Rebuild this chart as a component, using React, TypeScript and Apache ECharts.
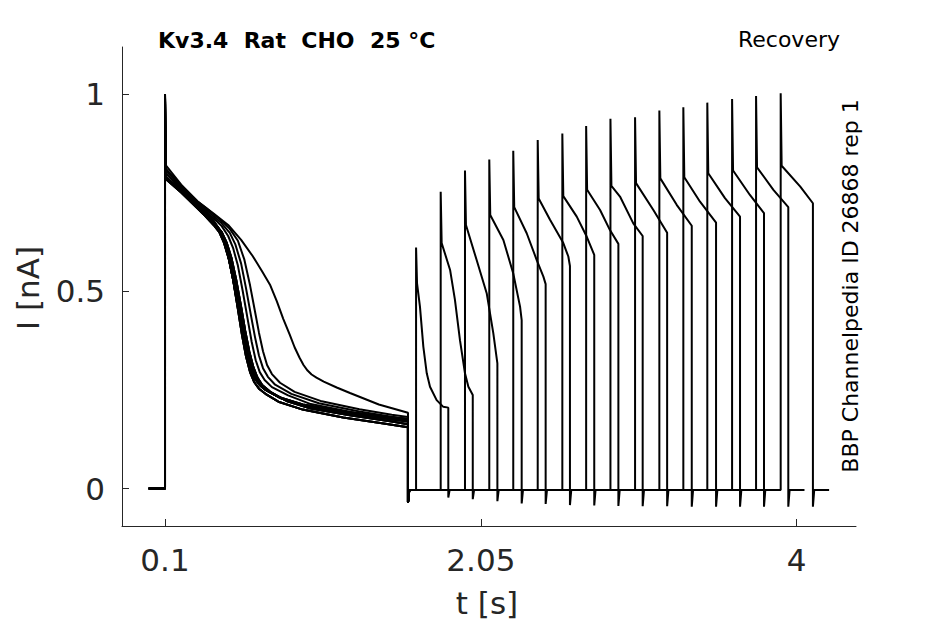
import React, { useEffect, useRef } from "react";
import * as echarts from "echarts";

// ---- Data (t in s, I in nA) ----
const xTicks = [0.1, 2.05, 4];
const yTicks = [0, 0.5, 1];

const holdingLevel = 0;
const gapLevel = -0.004;
const firstPulseEnd = 1.6;
const firstPulseTail = -0.036;
const recordStart = 0;
const tailDuration = 0.1;

// first (conditioning) pulse shapes
const bundle1 = [[0.1, 0], [0.1, 1.0], [0.103, 0.81], [0.2, 0.765], [0.3, 0.718], [0.35, 0.7], [0.4, 0.678], [0.43, 0.66], [0.46, 0.632], [0.49, 0.59], [0.52, 0.53], [0.55, 0.455], [0.575, 0.39], [0.6, 0.335], [0.625, 0.295], [0.65, 0.27], [0.68, 0.253], [0.72, 0.24], [0.8, 0.22], [0.95, 0.2], [1.2, 0.18], [1.45, 0.165], [1.6, 0.155]];
const bundle2 = [[0.1, 0], [0.1, 1.0], [0.103, 0.8], [0.2, 0.76], [0.3, 0.715], [0.35, 0.697], [0.4, 0.675], [0.44, 0.655], [0.47, 0.628], [0.5, 0.588], [0.53, 0.53], [0.56, 0.46], [0.585, 0.398], [0.61, 0.345], [0.635, 0.305], [0.66, 0.28], [0.69, 0.262], [0.73, 0.248], [0.82, 0.228], [0.98, 0.207], [1.2, 0.192], [1.45, 0.178], [1.6, 0.17]];
const bundle3 = [[0.1, 0], [0.1, 0.99], [0.103, 0.79], [0.2, 0.755], [0.3, 0.712], [0.35, 0.693], [0.4, 0.672], [0.45, 0.65], [0.48, 0.624], [0.51, 0.585], [0.54, 0.528], [0.57, 0.46], [0.595, 0.4], [0.62, 0.348], [0.645, 0.308], [0.67, 0.282], [0.7, 0.262], [0.75, 0.245], [0.85, 0.222], [1.0, 0.203], [1.25, 0.185], [1.5, 0.17], [1.6, 0.163]];
const bundle4 = [[0.1, 0], [0.1, 0.98], [0.103, 0.785], [0.2, 0.75], [0.3, 0.71], [0.35, 0.69], [0.4, 0.668], [0.435, 0.65], [0.465, 0.622], [0.495, 0.58], [0.525, 0.52], [0.555, 0.45], [0.58, 0.39], [0.605, 0.34], [0.63, 0.302], [0.655, 0.278], [0.685, 0.262], [0.72, 0.25], [0.8, 0.232], [0.95, 0.213], [1.2, 0.195], [1.45, 0.182], [1.6, 0.176]];
const mid1 = [[0.1, 0], [0.1, 0.99], [0.103, 0.8], [0.2, 0.76], [0.3, 0.72], [0.35, 0.703], [0.4, 0.685], [0.45, 0.665], [0.49, 0.64], [0.52, 0.61], [0.55, 0.565], [0.58, 0.5], [0.61, 0.43], [0.635, 0.372], [0.66, 0.325], [0.685, 0.295], [0.715, 0.275], [0.76, 0.257], [0.86, 0.236], [1.0, 0.214], [1.25, 0.194], [1.5, 0.178], [1.6, 0.173]];
const mid2 = [[0.1, 0], [0.1, 0.99], [0.103, 0.81], [0.2, 0.765], [0.3, 0.724], [0.35, 0.708], [0.4, 0.69], [0.45, 0.672], [0.5, 0.648], [0.535, 0.618], [0.57, 0.57], [0.6, 0.508], [0.63, 0.44], [0.655, 0.385], [0.68, 0.337], [0.705, 0.305], [0.735, 0.283], [0.78, 0.263], [0.88, 0.24], [1.05, 0.216], [1.3, 0.195], [1.5, 0.182], [1.6, 0.176]];
const mid3 = [[0.1, 0], [0.1, 0.99], [0.103, 0.81], [0.2, 0.768], [0.3, 0.728], [0.35, 0.712], [0.4, 0.695], [0.45, 0.678], [0.5, 0.658], [0.55, 0.628], [0.59, 0.58], [0.625, 0.515], [0.655, 0.45], [0.68, 0.395], [0.705, 0.348], [0.73, 0.313], [0.76, 0.29], [0.81, 0.268], [0.9, 0.245], [1.06, 0.222], [1.3, 0.201], [1.5, 0.187], [1.6, 0.181]];
const outlier = [[0.1, 0], [0.1, 1.0], [0.103, 0.82], [0.2, 0.77], [0.3, 0.728], [0.4, 0.697], [0.49, 0.668], [0.57, 0.63], [0.64, 0.59], [0.7, 0.55], [0.75, 0.515], [0.79, 0.475], [0.83, 0.43], [0.87, 0.39], [0.9, 0.358], [0.93, 0.332], [0.955, 0.313], [0.98, 0.299], [1.005, 0.289], [1.035, 0.281], [1.08, 0.271], [1.16, 0.256], [1.242, 0.242], [1.42, 0.213], [1.6, 0.192]];

const sweepFirstPulse = [outlier, mid1, mid2, mid3, bundle1, bundle2, bundle3, bundle4, bundle1, bundle2, bundle3, bundle4, bundle2, bundle1, bundle4, bundle3];

// second (test) pulse
const secondStart = [1.65, 1.802, 1.952, 2.102, 2.25, 2.401, 2.553, 2.7, 2.85, 3.002, 3.152, 3.3, 3.448, 3.601, 3.749, 3.901];
const secondPeak = [0.611, 0.752, 0.806, 0.834, 0.856, 0.883, 0.9, 0.919, 0.937, 0.941, 0.958, 0.966, 0.978, 0.987, 0.995, 1.002];
const secondShoulder = [0.52, 0.622, 0.668, 0.693, 0.713, 0.735, 0.741, 0.757, 0.767, 0.774, 0.786, 0.789, 0.799, 0.806, 0.814, 0.818];
const secondDecay = [
  [[1.674, 0.461], [1.695, 0.359], [1.716, 0.292], [1.736, 0.258], [1.777, 0.224], [1.818, 0.207], [1.849, 0.205]],
  [[1.86, 0.554], [1.89, 0.478], [1.921, 0.376], [1.952, 0.292], [1.973, 0.258], [2.0, 0.237]],
  [[2.024, 0.579], [2.086, 0.495], [2.127, 0.393], [2.152, 0.317]],
  [[2.189, 0.63], [2.25, 0.545], [2.292, 0.461], [2.302, 0.427]],
  [[2.333, 0.647], [2.395, 0.579], [2.436, 0.537], [2.45, 0.518]],
  [[2.477, 0.681], [2.559, 0.622], [2.59, 0.588], [2.6, 0.564]],
  [[2.642, 0.689], [2.704, 0.638], [2.75, 0.592]],
  [[2.786, 0.706], [2.847, 0.655], [2.899, 0.62]],
  [[2.909, 0.74], [2.991, 0.672], [3.049, 0.64]],
  [[3.115, 0.706], [3.2, 0.648]],
  [[3.259, 0.719], [3.352, 0.666]],
  [[3.403, 0.727], [3.502, 0.674]],
  [[3.557, 0.736], [3.65, 0.689]],
  [[3.711, 0.744], [3.798, 0.698]],
  [[3.856, 0.757], [3.948, 0.713]],
  [[4.022, 0.765], [4.1, 0.723]],
];
const secondTail = [-0.023, -0.027, -0.032, -0.038, -0.039, -0.042, -0.043, -0.044, -0.045, -0.045, -0.046, -0.046, -0.046, -0.046, -0.046, -0.046];

const INK = "#262626";

function buildSweep(i: number) {
  const pts: number[][] = [[recordStart, holdingLevel]];
  sweepFirstPulse[i].forEach((p) => pts.push(p));
  pts.push([firstPulseEnd, firstPulseTail]);
  pts.push([firstPulseEnd + 0.008, gapLevel]);
  const t2 = secondStart[i];
  pts.push([t2, gapLevel]);
  pts.push([t2, secondPeak[i]]);
  pts.push([t2 + 0.006, secondShoulder[i]]);
  const dec = secondDecay[i];
  dec.forEach((p) => pts.push(p));
  const tEnd = dec[dec.length - 1][0];
  pts.push([tEnd, secondTail[i]]);
  pts.push([tEnd + 0.008, gapLevel]);
  pts.push([tEnd + tailDuration, gapLevel]);
  return pts;
}

export default function App() {
  const ref = useRef<HTMLDivElement>(null);
  useEffect(() => {
    if (!ref.current) return;
    const chart = echarts.init(ref.current, null, { renderer: "svg" });
    const series = secondStart.map((_, i) => ({
      type: "line",
      data: buildSweep(i),
      showSymbol: false,
      symbol: "none",
      silent: true,
      lineStyle: { color: "#000", width: 2 },
      z: 2,
    }));
    chart.setOption({
      animation: false,
      backgroundColor: "#fff",
      grid: { left: 122, top: 47, right: 89, bottom: 98, containLabel: false },
      xAxis: {
        type: "value",
        min: -0.1655,
        max: 4.366,
        axisLine: { show: true, onZero: false, lineStyle: { color: INK, width: 1 } },
        axisTick: { show: true, inside: true, length: 7, customValues: xTicks, lineStyle: { color: INK } },
        axisLabel: {
          customValues: xTicks,
          color: INK,
          fontSize: 31,
          fontFamily: "DejaVu Sans",
          margin: 18,
          formatter: (v: number) => String(v),
        },
        splitLine: { show: false },
      },
      yAxis: {
        type: "value",
        min: -0.095,
        max: 1.119,
        axisLine: { show: true, onZero: false, lineStyle: { color: INK, width: 1 } },
        axisTick: { show: true, inside: true, length: 7, customValues: yTicks, lineStyle: { color: INK } },
        axisLabel: {
          customValues: yTicks,
          color: INK,
          fontSize: 31,
          fontFamily: "DejaVu Sans",
          margin: 17,
          formatter: (v: number) => String(v),
        },
        splitLine: { show: false },
      },
      graphic: [
        {
          type: "text",
          x: 158,
          y: 40,
          style: { text: "Kv3.4  Rat  CHO  25 °C", fill: "#000", font: "bold 22px 'DejaVu Sans'", align: "left", verticalAlign: "middle" },
        },
        {
          type: "text",
          x: 840,
          y: 39,
          style: { text: "Recovery", fill: "#000", font: "22px 'DejaVu Sans'", align: "right", verticalAlign: "middle" },
        },
        {
          type: "text",
          x: 850,
          y: 286,
          rotation: Math.PI / 2,
          style: { text: "BBP Channelpedia ID 26868 rep 1", fill: "#000", font: "22px 'DejaVu Sans'", align: "center", verticalAlign: "middle" },
        },
        {
          type: "text",
          x: 28,
          y: 288,
          rotation: Math.PI / 2,
          style: { text: "I [nA]", fill: INK, font: "31px 'DejaVu Sans'", align: "center", verticalAlign: "middle" },
        },
        {
          type: "text",
          x: 487,
          y: 603,
          style: { text: "t [s]", fill: INK, font: "31px 'DejaVu Sans'", align: "center", verticalAlign: "middle" },
        },
      ],
      series,
    });
    return () => chart.dispose();
  }, []);
  return <div ref={ref} style={{ position: "absolute", left: 0, top: 0, width: 945, height: 624 }} />;
}
